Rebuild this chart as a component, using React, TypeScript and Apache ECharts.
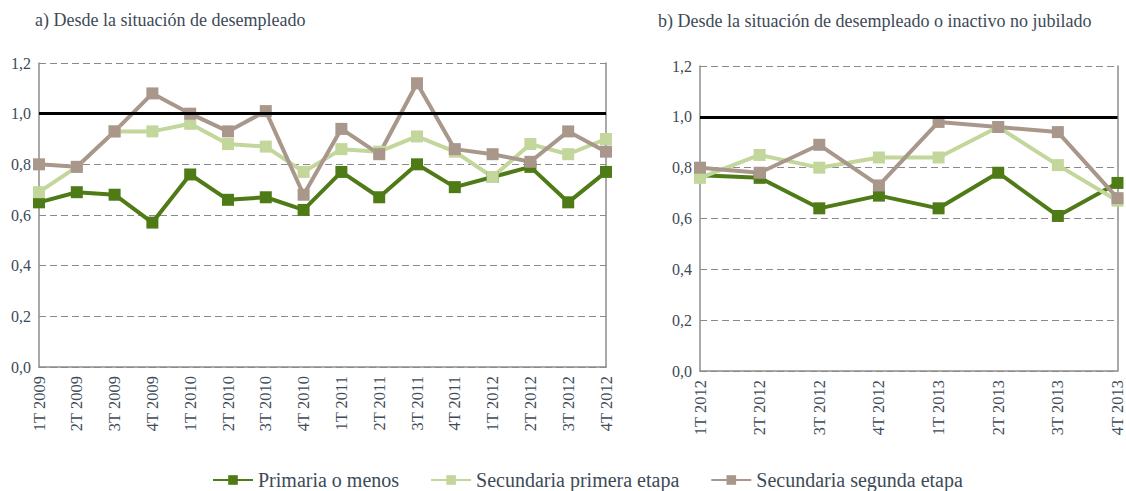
import React, { useEffect, useRef } from "react";
import * as echarts from "echarts";

const leftCats = [
  "1T 2009", "2T 2009", "3T 2009", "4T 2009",
  "1T 2010", "2T 2010", "3T 2010", "4T 2010",
  "1T 2011", "2T 2011", "3T 2011", "4T 2011",
  "1T 2012", "2T 2012", "3T 2012", "4T 2012",
];
const rightCats = [
  "1T 2012", "2T 2012", "3T 2012", "4T 2012",
  "1T 2013", "2T 2013", "3T 2013", "4T 2013",
];

const leftPrimaria = [0.65, 0.69, 0.68, 0.57, 0.76, 0.66, 0.67, 0.62, 0.77, 0.67, 0.80, 0.71, 0.75, 0.79, 0.65, 0.77];
const leftPrimera = [0.69, 0.79, 0.93, 0.93, 0.96, 0.88, 0.87, 0.77, 0.86, 0.85, 0.91, 0.85, 0.75, 0.88, 0.84, 0.90];
const leftSegunda = [0.80, 0.79, 0.93, 1.08, 1.0, 0.93, 1.01, 0.68, 0.94, 0.84, 1.12, 0.86, 0.84, 0.81, 0.93, 0.85];

const rightPrimaria = [0.77, 0.76, 0.64, 0.69, 0.64, 0.78, 0.61, 0.74];
const rightPrimera = [0.76, 0.85, 0.80, 0.84, 0.84, 0.96, 0.81, 0.67];
const rightSegunda = [0.80, 0.78, 0.89, 0.73, 0.98, 0.96, 0.94, 0.68];

const names = ["Primaria o menos", "Secundaria primera etapa", "Secundaria segunda etapa"];
const colors = ["#4f7b16", "#c3d69b", "#a8978a"];
const titles = ["a) Desde la situación de desempleado", "b) Desde la situación de desempleado o inactivo no jubilado"];

const FONT = "Liberation Serif";
const TXT = "#3d4a57";

export default function App() {
  const ref = useRef<HTMLDivElement>(null);
  useEffect(() => {
    if (!ref.current) return;
    const chart = echarts.init(ref.current, null, { renderer: "svg" });
    const fmt = (v: number) => v.toFixed(1).replace(".", ",");
    const grids = [
      { left: 39, top: 63, width: 567, height: 304 },
      { left: 700, top: 66, width: 419, height: 305 },
    ];
    const cats = [leftCats, rightCats];
    const data = [
      [leftPrimaria, leftPrimera, leftSegunda],
      [rightPrimaria, rightPrimera, rightSegunda],
    ];
    const xAxis: any[] = [];
    const yAxis: any[] = [];
    const series: any[] = [];
    grids.forEach((g, gi) => {
      xAxis.push({
        type: "category",
        gridIndex: gi,
        data: cats[gi],
        boundaryGap: false,
        axisLine: { show: true, lineStyle: { color: "#8c8c8c", width: 1.5 } },
        axisTick: { show: false },
        axisLabel: { interval: 0, rotate: 90, margin: 9, fontFamily: FONT, fontSize: 16.5, color: TXT },
        splitLine: { show: false },
      });
      yAxis.push({
        type: "value",
        gridIndex: gi,
        min: 0,
        max: 1.2,
        interval: 0.2,
        axisLine: { show: true, lineStyle: { color: "#8c8c8c", width: 1.5 } },
        axisTick: { show: false },
        axisLabel: { formatter: fmt, margin: 8, fontFamily: FONT, fontSize: 16, color: TXT },
        splitLine: { show: true, lineStyle: { color: "#8a8a8a", type: [7, 4], width: 1.2 } },
      });
      yAxis.push({
        type: "value",
        gridIndex: gi,
        position: "right",
        min: 0,
        max: 1.2,
        interval: 0.2,
        axisLine: { show: true, lineStyle: { color: "#8c8c8c", width: 1.5 } },
        axisTick: { show: false },
        axisLabel: { show: false },
        splitLine: { show: false },
      });
      data[gi].forEach((d, si) => {
        const s: any = {
          name: names[si],
          type: "line",
          xAxisIndex: gi,
          yAxisIndex: gi * 2,
          data: d,
          symbol: "rect",
          symbolSize: 12,
          showSymbol: true,
          color: colors[si],
          lineStyle: { color: colors[si], width: 4 },
          itemStyle: { color: colors[si] },
          clip: false,
        };
        if (si === 0) {
          s.markLine = {
            silent: true,
            symbol: "none",
            label: { show: false },
            lineStyle: { color: "#000", width: 3, type: "solid" },
            data: [{ yAxis: 1.0 }],
          };
        }
        series.push(s);
      });
    });
    chart.setOption({
      animation: false,
      backgroundColor: "#fff",
      title: [
        { text: titles[0], left: 35, top: 11, padding: 0, textStyle: { fontFamily: FONT, fontSize: 18, fontWeight: "normal", color: TXT } },
        { text: titles[1], left: 658, top: 12, padding: 0, textStyle: { fontFamily: FONT, fontSize: 18, fontWeight: "normal", color: TXT } },
      ],
      legend: {
        data: names,
        left: 212,
        top: 470,
        padding: 0,
        itemWidth: 40,
        itemHeight: 12,
        itemGap: 31,
        textStyle: { fontFamily: FONT, fontSize: 20, color: TXT },
      },
      grid: grids.map((g) => ({ ...g, containLabel: false })),
      xAxis,
      yAxis,
      series,
    });
    return () => chart.dispose();
  }, []);
  return (
    <div
      ref={ref}
      style={{ position: "fixed", left: 0, top: 0, width: 1126, height: 491 }}
    />
  );
}
